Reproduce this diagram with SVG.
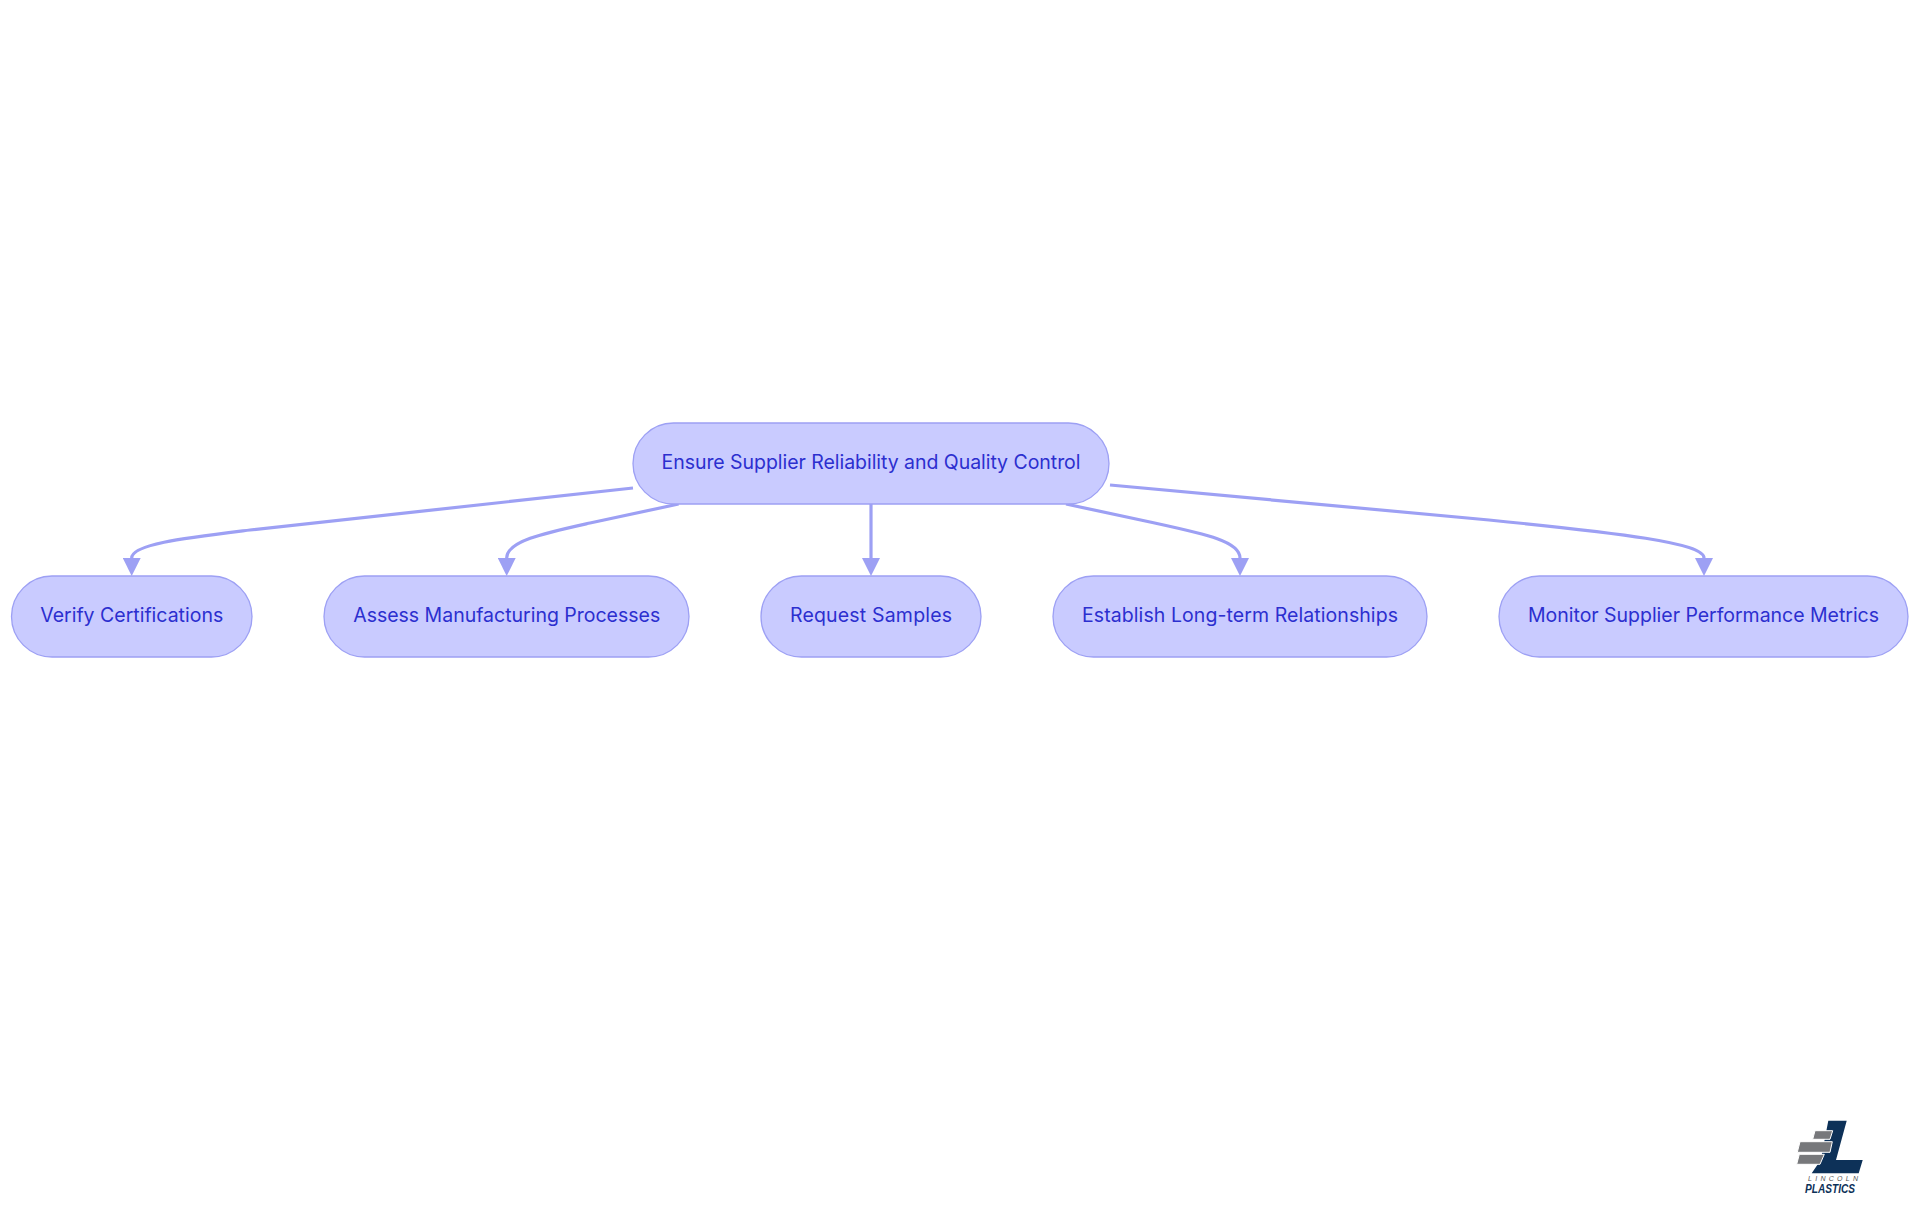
<svg xmlns="http://www.w3.org/2000/svg" width="1920" height="1215" viewBox="0 0 1920 1215">
<style>
.n{fill:#c9cbff;stroke:#9da0f4;stroke-width:1.3}
.t{font-family:"Inter","Noto Sans",sans-serif;font-size:19.5px;fill:#2c2fcf;text-anchor:middle}
.e{fill:none;stroke:#9da0f4;stroke-width:3.2}
</style>
<defs><marker id="a" markerUnits="userSpaceOnUse" markerWidth="18" markerHeight="18" refX="0" refY="9" orient="auto"><path d="M0,0L18,9L0,18Z" fill="#9da0f4"/></marker></defs>
<rect width="1920" height="1215" fill="#fff"/>
<g id="connectors">
<path class="e" marker-end="url(#a)" d="M633,488L250,530C185,538 131.700,544 131.700,558"/>
<path class="e" marker-end="url(#a)" d="M678.600,504L590,523C545,533 506.700,541 506.700,558"/>
<path class="e" marker-end="url(#a)" d="M871,504V558"/>
<path class="e" marker-end="url(#a)" d="M1066,504L1150,522C1205,534 1240,541 1240,558"/>
<path class="e" marker-end="url(#a)" d="M1110,485L1489,520C1620,533 1704,543 1704,558"/>
</g>
<g id="root"><rect class="n" x="633" y="423" width="476" height="81" rx="40.500"/><text class="t" x="871" y="469" textLength="419" lengthAdjust="spacing">Ensure Supplier Reliability and Quality Control</text></g>
<g id="n1"><rect class="n" x="11.500" y="576" width="240.500" height="81" rx="40.500"/><text class="t" x="131.700" y="622" textLength="183" lengthAdjust="spacing">Verify Certifications</text></g>
<g id="n2"><rect class="n" x="324" y="576" width="365" height="81" rx="40.500"/><text class="t" x="506.700" y="622" textLength="307" lengthAdjust="spacing">Assess Manufacturing Processes</text></g>
<g id="n3"><rect class="n" x="761" y="576" width="220" height="81" rx="40.500"/><text class="t" x="871" y="622" textLength="162" lengthAdjust="spacing">Request Samples</text></g>
<g id="n4"><rect class="n" x="1053" y="576" width="374" height="81" rx="40.500"/><text class="t" x="1240" y="622" textLength="316" lengthAdjust="spacing">Establish Long-term Relationships</text></g>
<g id="n5"><rect class="n" x="1499" y="576" width="409" height="81" rx="40.500"/><text class="t" x="1703.500" y="622" textLength="351" lengthAdjust="spacing">Monitor Supplier Performance Metrics</text></g>
<g id="logo">
<path fill="#0d3158" d="M1828.300,1120.700H1846.700L1836,1160H1862.700L1858.700,1173.300H1811.700L1820.700,1160Z"/>
<g fill="#77787b" stroke="#fff" stroke-width="1">
<path d="M1815,1130.700H1832.700L1830,1139.300H1812.700Z"/>
<path d="M1800,1141.700H1832.300L1830,1152.300H1797.300Z"/>
<path d="M1799.300,1154.300H1824.300L1820,1164.300H1796.700Z"/>
</g>
<text x="1833" y="1180.500" font-family="Liberation Sans,sans-serif" font-size="7" font-style="italic" fill="#555" text-anchor="middle" textLength="50">LINCOLN</text>
<text x="1830" y="1193" font-family="Liberation Sans,sans-serif" font-size="13" font-style="italic" font-weight="700" fill="#0d3158" text-anchor="middle" textLength="50" lengthAdjust="spacingAndGlyphs">PLASTICS</text>
</g>
</svg>
